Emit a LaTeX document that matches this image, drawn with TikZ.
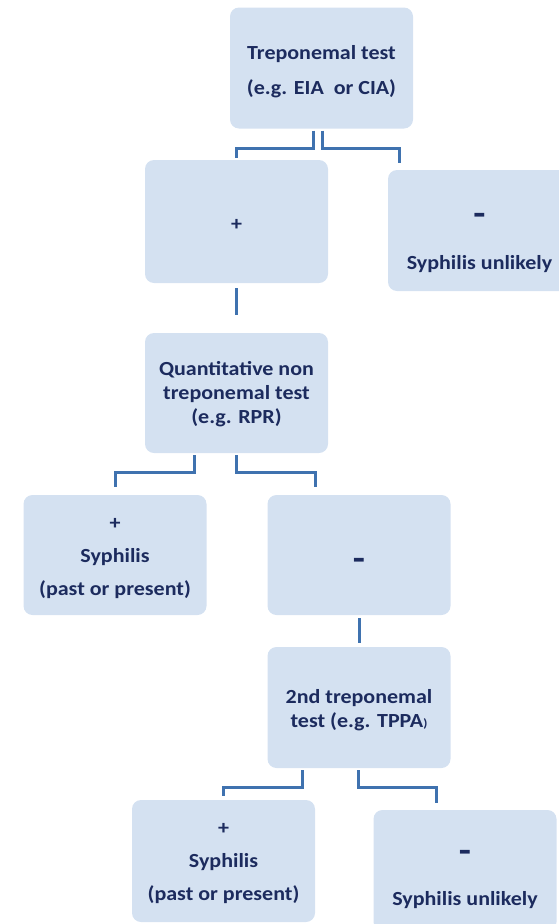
\documentclass[tikz,border=0pt]{standalone}
\usepackage{fontspec}
\setmainfont{Carlito}[FakeStretch=1.1]
\usepackage{xcolor}
\usepackage{tikz}

\definecolor{boxfill}{HTML}{D4E1F1}
\definecolor{boxtext}{HTML}{1C2B5E}
\definecolor{linkblue}{HTML}{3F72AF}

\newcommand{\bigdash}{{\fontsize{36}{36}\selectfont -}}

\tikzset{
  box/.style={rounded corners=9pt,fill=boxfill,
    minimum width=183pt,minimum height=121pt,inner sep=0pt},
  txt/.style={text=boxtext,inner sep=0pt,align=center,
    font=\fontsize{20}{24}\selectfont\bfseries},
  link/.style={draw=linkblue,line width=3pt}
}

\begin{document}
\begin{tikzpicture}[x=1pt,y=-1pt]
\useasboundingbox (0,0) rectangle (559,924);
\clip (0,0) rectangle (559,924);

% First treponemal test
\node[box] (tt) at (321.5,68) {};
\node[txt] (tt-t) at ([yshift=-4pt]tt.center) {Treponemal test\\[11pt](e.g. EIA~ or CIA)};
\node[box,minimum height=123pt] (pos) at (236.5,221.5) {};
\node[txt] (pos-t) at ([yshift=-3pt]pos.center) {+};
\node[box] (unl) at (479.5,230.5) {};
\node[txt] (unl-t) at ([yshift=-13pt]unl.center) {\bigdash\\[20pt]Syphilis unlikely};

% Non treponemal test
\node[box,minimum height=120pt] (rpr) at (236.5,393) {};
\node[txt] (rpr-t) at ([yshift=-1pt]rpr.center) {Quantitative non\\treponemal test\\(e.g. RPR)};
\node[box,minimum height=120pt] (syp) at (115,555) {};
\node[txt] (syp-t) at ([yshift=-4pt]syp.center) {+\\[9pt]Syphilis\\[9pt](past or present)};
\node[box,minimum height=120pt] (neg) at (359,555) {};
\node[txt] (neg-t) at ([yshift=-9pt]neg.center) {\bigdash};

% Second treponemal test
\node[box] (tppa) at (359,707.5) {};
\node[txt] (tppa-t) at ([yshift=-3pt]tppa.center) {2nd treponemal\\test (e.g. TPPA{\fontsize{12}{12}\selectfont)}};
\node[box,minimum height=122pt] (syptwo) at (223.5,861) {};
\node[txt] (syptwo-t) at ([yshift=-3pt]syptwo.center) {+\\[9pt]Syphilis\\[9pt](past or present)};
\node[box] (unltwo) at (465,870.5) {};
\node[txt] (unltwo-t) at ([yshift=-8.5pt]unltwo.center) {\bigdash\\[19pt]Syphilis unlikely};

% Links
\draw[link] ([xshift=-8.5pt,yshift=-2pt]tt.south) -- ++(0,18) -| ([yshift=2pt]pos.north);
\draw[link] ([xshift=0.5pt,yshift=-2pt]tt.south) -- ++(0,18) -| ([xshift=-80.5pt,yshift=7pt]unl.north);
\draw[link] ([yshift=-5pt]pos.south) -- ([yshift=18pt]rpr.north);

\draw[link] ([xshift=-42.5pt,yshift=-2pt]rpr.south) -- ++(0,17) -| ([yshift=8pt]syp.north);
\draw[link] ([yshift=-2pt]rpr.south) -- ++(0,17) -| ([xshift=-44pt,yshift=8pt]neg.north);
\draw[link] ([yshift=-3pt]neg.south) -- ([yshift=4pt]tppa.north);

\draw[link] ([xshift=-57pt,yshift=-2pt]tppa.south) -- ++(0,17) -| ([yshift=4pt]syptwo.north);
\draw[link] ([xshift=-1pt,yshift=-2pt]tppa.south) -- ++(0,17) -| ([xshift=-29pt,yshift=7pt]unltwo.north);
\end{tikzpicture}
\end{document}
